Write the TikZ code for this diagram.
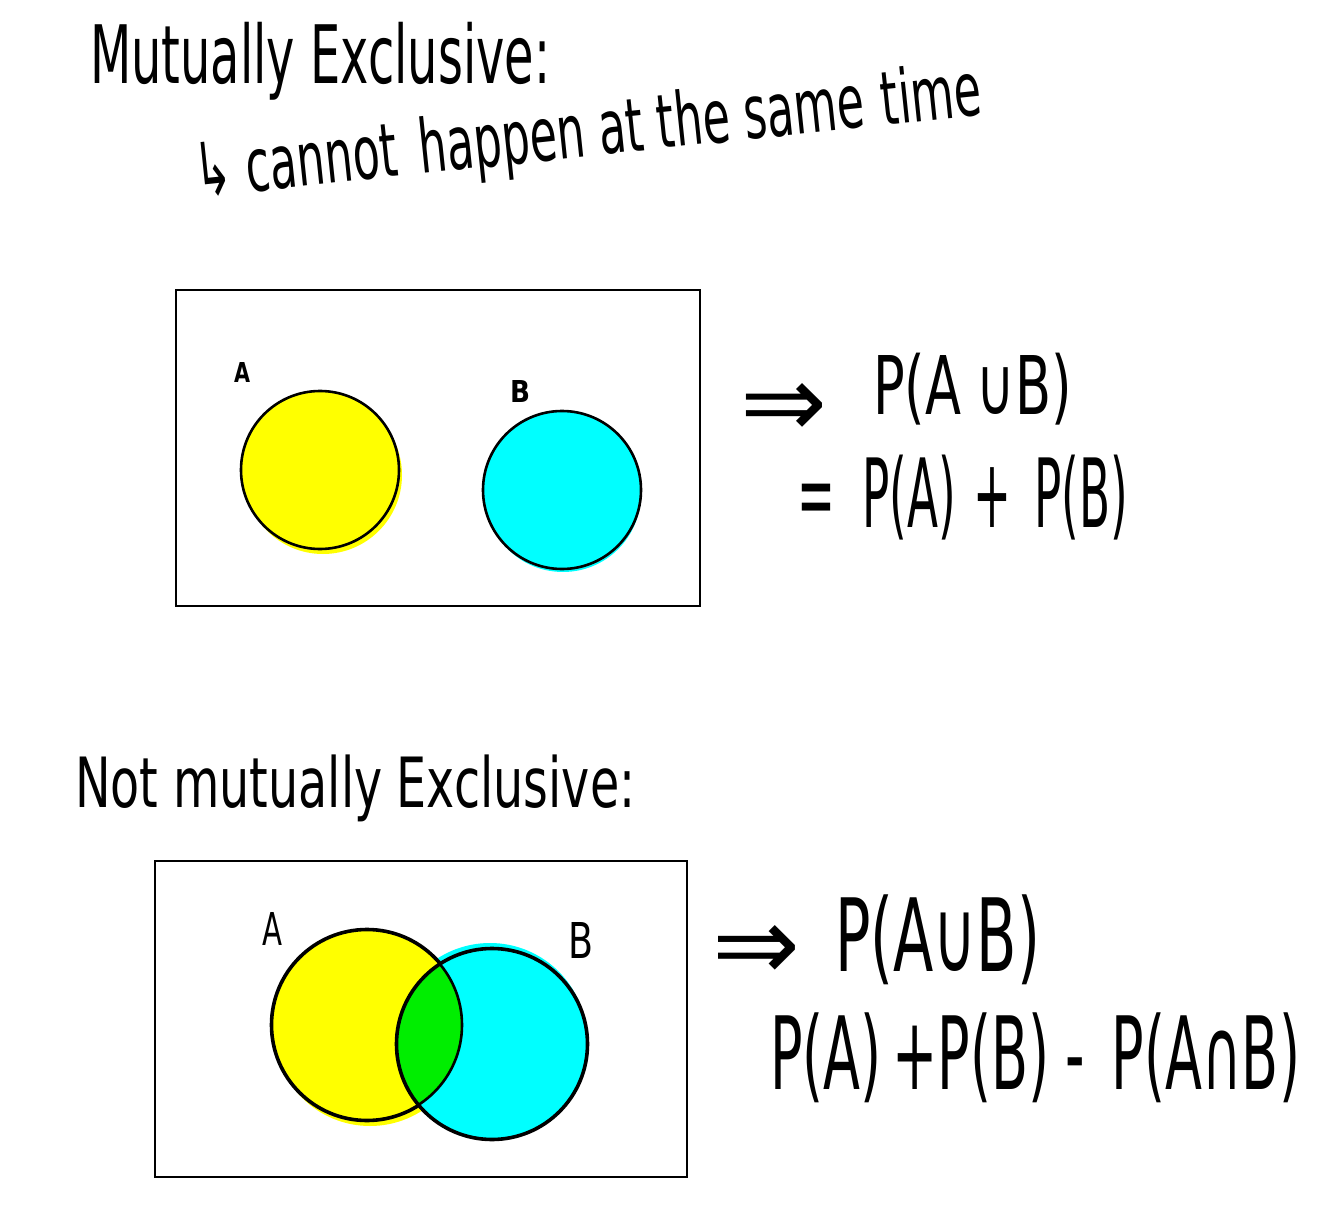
\documentclass[tikz,border=0pt]{standalone}
\usepackage{fontspec}
\setmainfont{DejaVu Sans}
\definecolor{vyellow}{HTML}{FFFF00}
\definecolor{vcyan}{HTML}{00FFFF}
\definecolor{vgreen}{HTML}{00EE00}
\newcommand\fitbox[3]{\resizebox*{#1pt}{#2pt}{#3}}
\begin{document}
\begin{tikzpicture}[x=1pt,y=-1pt,
  txt/.style={inner sep=0pt, outer sep=0pt, anchor=north west},
  frame/.style={draw=black, line width=1.8pt},
  venn/.style={circle, draw=black, line width=2.6pt, inner sep=0pt}]
\useasboundingbox (0,0) rectangle (1334,1206);
\fill[white] (0,0) rectangle (1334,1206);

% titles
\node[txt] (t1) at (90,22) {\fitbox{460}{78}{Mutually Exclusive:}};
\node[inner sep=0pt, anchor=west, rotate=6] (t2) at (195,177) {\fitbox{790}{72}{↳ cannot\hspace{0.5em}happen at the same\hspace{0.4em}time}};

% ---- box 1
\node[frame, minimum width=524pt, minimum height=316pt, anchor=north west, inner sep=0pt] (box1) at (175,289) {};
\fill[vyellow] (323,475) circle (79pt);
\fill[vcyan] (563,494) circle (78pt);
\node[venn, fill=vyellow, minimum size=158pt] (A1) at (320,470) {};
\node[venn, fill=vcyan, minimum size=158pt] (B1) at (562,490) {};
\node[txt] (la1) at (234,362) {\fitbox{16}{20}{\textbf{A}}};
\node[txt] (lb1) at (510,380) {\fitbox{20}{22}{\textbf{B}}};

\node[txt] (ar1) at (740,383) {\fitbox{87}{54}{⇒}};
\node[txt] (e1) at (873,353) {\fitbox{199}{72}{P(A\hspace{0.3em}∪B)}};
\node[txt] (e2) at (797,455) {\fitbox{331}{85}{=\hspace{0.6em}P(A)\hspace{0.4em}+\hspace{0.5em}P(B)}};

% ---- second part
\node[txt] (t3) at (75,755) {\fitbox{560}{67}{Not mutually\hspace{0.3em}Exclusive:}};

\node[frame, minimum width=532pt, minimum height=316pt, anchor=north west, inner sep=0pt] (box2) at (154,860) {};
\fill[vyellow] (370,1030) circle (96pt);
\fill[vcyan] (490,1040) circle (97pt);
\node[venn, fill=vyellow, minimum size=192pt] (A2) at (367,1025) {};
\node[venn, fill=vcyan, minimum size=192pt] (B2) at (492,1044) {};
\begin{scope}
  \clip (A2.center) circle (95pt);
  \fill[vgreen] (B2.center) circle (95pt);
\end{scope}
\draw[line width=2.6pt] (A2.center) circle (95pt);
\draw[line width=2.6pt] (B2.center) circle (95pt);
\node[txt] (la2) at (262,912) {\fitbox{20}{33}{A}};
\node[txt] (lb2) at (568,922) {\fitbox{25}{36}{B}};

\node[txt] (ar2) at (712,925) {\fitbox{88}{55}{⇒}};
\node[txt] (e3) at (835,895) {\fitbox{205}{90}{P(A∪B)}};
\node[txt] (e4) at (770,1013) {\fitbox{530}{90}{P(A)\hspace{0.2em}+P(B)\hspace{0.3em}-\hspace{0.5em}P(A∩B)}};
\end{tikzpicture}
\end{document}
